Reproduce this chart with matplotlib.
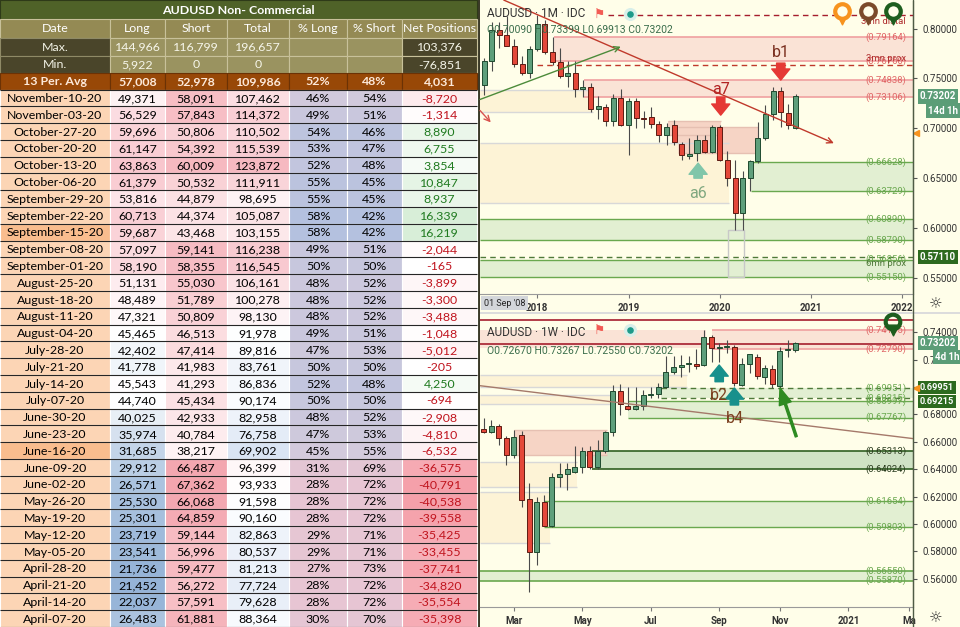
import matplotlib
matplotlib.use("Agg")
import matplotlib.pyplot as plt
import matplotlib.dates as mdates
from matplotlib.patches import Rectangle
from matplotlib.colors import LinearSegmentedColormap
import numpy as np
import pandas as pd

plt.rcParams["font.family"] = ["Roboto", "DejaVu Sans"]

W, H = 960, 627
CREAM = "#fffee9"

# ---------------- COT table data ----------------
title = "AUDUSD Non- Commercial"
columns = ["Date", "Long", "Short", "Total", "% Long", "% Short", "Net Positions"]
max_vals = [144966, 116799, 196657, None, None, 103376]
min_vals = [5922, 0, 0, None, None, -76851]
avg_vals = [57008, 52978, 109986, "52%", "48%", 4031]

dates = ["November-10-20", "November-03-20", "October-27-20", "October-20-20",
         "October-13-20", "October-06-20", "September-29-20", "September-22-20",
         "September-15-20", "September-08-20", "September-01-20", "August-25-20",
         "August-18-20", "August-11-20", "August-04-20", "July-28-20", "July-21-20",
         "July-14-20", "July-07-20", "June-30-20", "June-23-20", "June-16-20",
         "June-09-20", "June-02-20", "May-26-20", "May-19-20", "May-12-20",
         "May-05-20", "April-28-20", "April-21-20", "April-14-20", "April-07-20"]
long_pos = [49371, 56529, 59696, 61147, 63863, 61379, 53816, 60713, 59687, 57097, 58190,
            51131, 48489, 47321, 45465, 42402, 41778, 45543, 44740, 40025, 35974, 31685,
            29912, 26571, 25530, 25301, 23719, 23541, 21736, 21452, 22037, 26483]
short_pos = [58091, 57843, 50806, 54392, 60009, 50532, 44879, 44374, 43468, 59141, 58355,
             55030, 51789, 50809, 46513, 47414, 41983, 41293, 45434, 42933, 40784, 38217,
             66487, 67362, 66068, 64859, 59144, 56996, 59477, 56272, 57591, 61881]
total_pos = [107462, 114372, 110502, 115539, 123872, 111911, 98695, 105087, 103155, 116238,
             116545, 106161, 100278, 98130, 91978, 89816, 83761, 86836, 90174, 82958, 76758,
             69902, 96399, 93933, 91598, 90160, 82863, 80537, 81213, 77724, 79628, 88364]
pct_long = [46, 49, 54, 53, 52, 55, 55, 58, 58, 49, 50, 48, 48, 48, 49, 47, 50, 52, 50, 48,
            47, 45, 31, 28, 28, 28, 29, 29, 27, 28, 28, 30]
pct_short = [54, 51, 46, 47, 48, 45, 45, 42, 42, 51, 50, 52, 52, 52, 51, 53, 50, 48, 50, 52,
             53, 55, 69, 72, 72, 72, 71, 71, 73, 72, 72, 70]
net_pos = [-8720, -1314, 8890, 6755, 3854, 10847, 8937, 16339, 16219, -2044, -165, -3899,
           -3300, -3488, -1048, -5012, -205, 4250, -694, -2908, -4810, -6532, -36575, -40791,
           -40538, -39558, -35425, -33455, -37741, -34820, -35554, -35398]
highlight_dates = ["September-15-20", "June-16-20"]

# ---------------- monthly candles (top panel) ----------------
m_months = pd.period_range("2017-06", "2020-11", freq="M")
m_open = [0.743, 0.768, 0.799, 0.794, 0.783, 0.765, 0.756, 0.780, 0.805, 0.777, 0.767, 0.752,
          0.756, 0.739, 0.741, 0.719, 0.721, 0.707, 0.730, 0.703, 0.727, 0.710, 0.711, 0.704,
          0.693, 0.703, 0.684, 0.672, 0.675, 0.688, 0.676, 0.701, 0.668, 0.650, 0.615, 0.650,
          0.667, 0.690, 0.714, 0.737, 0.715, 0.7009]
m_high = [0.771, 0.807, 0.807, 0.813, 0.790, 0.773, 0.783, 0.814, 0.809, 0.792, 0.781, 0.768,
          0.768, 0.748, 0.745, 0.732, 0.724, 0.734, 0.739, 0.730, 0.730, 0.717, 0.721, 0.707,
          0.705, 0.708, 0.686, 0.690, 0.693, 0.693, 0.703, 0.703, 0.677, 0.668, 0.657, 0.668,
          0.706, 0.723, 0.741, 0.741, 0.724, 0.7340]
m_low = [0.733, 0.758, 0.781, 0.783, 0.762, 0.753, 0.750, 0.778, 0.775, 0.764, 0.750, 0.741,
         0.731, 0.731, 0.716, 0.709, 0.702, 0.702, 0.702, 0.673, 0.700, 0.700, 0.700, 0.686,
         0.683, 0.683, 0.668, 0.669, 0.667, 0.675, 0.675, 0.667, 0.642, 0.598, 0.598, 0.637,
         0.665, 0.688, 0.708, 0.701, 0.699, 0.6991]
m_close = [0.768, 0.799, 0.794, 0.783, 0.765, 0.756, 0.780, 0.805, 0.777, 0.767, 0.752, 0.756,
           0.739, 0.741, 0.719, 0.722, 0.707, 0.730, 0.703, 0.727, 0.710, 0.709, 0.704, 0.693,
           0.701, 0.686, 0.673, 0.674, 0.688, 0.676, 0.701, 0.668, 0.650, 0.615, 0.650, 0.667,
           0.690, 0.714, 0.737, 0.716, 0.703, 0.7320]

# ---------------- weekly candles (bottom panel) ----------------
w_weeks = pd.date_range("2020-02-03", "2020-11-16", freq="W-MON")
w_open = [0.6692, 0.6670, 0.6716, 0.6626, 0.6504, 0.6650, 0.6181, 0.5794, 0.6164, 0.5988,
          0.6346, 0.6364, 0.6382, 0.6419, 0.6534, 0.6418, 0.6534, 0.6670, 0.6972, 0.6864,
          0.6838, 0.6864, 0.6942, 0.6950, 0.6999, 0.7108, 0.7145, 0.7168, 0.7168, 0.7161,
          0.7368, 0.7285, 0.7290, 0.7290, 0.7015, 0.7166, 0.7222, 0.7076, 0.7130, 0.7010,
          0.7268, 0.7267]
w_high = [0.6772, 0.6760, 0.6730, 0.6640, 0.6685, 0.6680, 0.6302, 0.6200, 0.6215, 0.6371,
          0.6444, 0.6444, 0.6570, 0.6560, 0.6570, 0.6617, 0.6683, 0.7015, 0.7020, 0.7004,
          0.7004, 0.6980, 0.6999, 0.7030, 0.7230, 0.7227, 0.7237, 0.7230, 0.7276, 0.7417,
          0.7380, 0.7321, 0.7345, 0.7305, 0.7209, 0.7243, 0.7240, 0.7158, 0.7158, 0.7290,
          0.7340, 0.73267]
w_low = [0.6662, 0.6665, 0.6577, 0.6434, 0.6480, 0.6127, 0.5507, 0.5700, 0.5985, 0.5982,
         0.6273, 0.6250, 0.6372, 0.6370, 0.6402, 0.6402, 0.6520, 0.6645, 0.6796, 0.6830,
         0.6830, 0.6832, 0.6919, 0.6921, 0.6990, 0.7095, 0.7075, 0.7110, 0.7130, 0.7152,
         0.7180, 0.7180, 0.7250, 0.7006, 0.7006, 0.7100, 0.7060, 0.7021, 0.6991, 0.6991,
         0.7220, 0.7255]
w_close = [0.6670, 0.6716, 0.6626, 0.6504, 0.6638, 0.6176, 0.5794, 0.6164, 0.5988, 0.6342,
           0.6364, 0.6402, 0.6419, 0.6534, 0.6418, 0.6534, 0.6670, 0.6972, 0.6874, 0.6838,
           0.6864, 0.6942, 0.6950, 0.6999, 0.7108, 0.7145, 0.7162, 0.7170, 0.7157, 0.7368,
           0.7283, 0.7290, 0.7295, 0.7028, 0.7166, 0.7239, 0.7081, 0.7137, 0.7023, 0.7264,
           0.7272, 0.73202]

# zone levels
top_levels_red = [0.79164, 0.76760, 0.74838, 0.73106]
top_levels_green = [0.66628, 0.63729, 0.60890, 0.58790, 0.56856, 0.55150]
bot_levels_red = [0.74135, 0.72790]
bot_levels_green = [0.69951, 0.69215, 0.68997, 0.67767, 0.65313, 0.64024,
                    0.61654, 0.59803, 0.56550, 0.55870]

UP, UP_EDGE = "#5e9f7b", "#1f4a2f"
DN, DN_EDGE = "#e4483a", "#5c1a12"
WICK = "#4a4a4a"
PINK_F, PINK_L = "#fae3d6", "#f0a0a0"
SALMON_F, SALMON_L = "#f6d4c5", "#e6c0b2"
GREEN_F, GREEN_L = "#e2efd2", "#6aa84f"
DGREEN_F, DGREEN_L = "#cfe2c5", "#2f5e22"
BEIGE_F, BEIGE_L = "#fdf3d6", "#d8d8d8"
DARKRED = "#a51d2d"


def fig_axes(x0, y0, x1, y1, **kw):
    return fig.add_axes([x0 / W, 1 - y1 / H, (x1 - x0) / W, (y1 - y0) / H], **kw)


def fmt(v):
    if v is None:
        return ""
    if isinstance(v, str):
        return v
    return f"{v:,}"


def scale_colors(vals, colors, center=None):
    v = np.asarray(vals, float)
    cmap = LinearSegmentedColormap.from_list("c", colors)
    lo, hi = v.min(), v.max()
    if center is None:
        t = (v - lo) / (hi - lo)
    else:
        t = np.where(v < center, 0.5 * (v - lo) / (center - lo),
                     0.5 + 0.5 * (v - center) / (hi - center))
    return [cmap(x) for x in t]


def net_colors(vals):
    neg = LinearSegmentedColormap.from_list("n", ["#ffffff", "#f5a0aa"])
    pos = LinearSegmentedColormap.from_list("p", ["#ffffff", "#d8eed8"])
    lo, hi = min(vals), max(vals)
    return [neg(v / lo) if v < 0 else pos(v / hi) for v in vals]


def candles(ax, x, o, h, l, c, width, min_h):
    o, h, l, c = map(np.asarray, (o, h, l, c))
    up = c >= o
    ax.vlines(x, l, h, color=WICK, lw=0.8, zorder=4)
    ax.bar(x, np.maximum(np.abs(c - o), min_h), bottom=np.minimum(o, c), width=width,
           color=np.where(up, UP, DN), edgecolor=np.where(up, UP_EDGE, DN_EDGE),
           linewidth=0.7, zorder=5)


def zone(ax, x0, x1, lo, hi, fc, ec, lw=1.0, edge_lines=True, z=1):
    ax.add_patch(Rectangle((x0, lo), x1 - x0, hi - lo, facecolor=fc, edgecolor="none", zorder=z))
    if edge_lines:
        ax.hlines([lo, hi], x0, x1, colors=ec, lw=lw, zorder=z + 0.5)


def level_label(ax, p, text, color, y_off=0.0):
    ax.text(0.984, p + y_off, text, transform=ax.get_yaxis_transform(), ha="right",
            va="center", fontsize=6.8, color=color, zorder=8)


def price_box(ax, p, text, fc, x=1.016, size=7):
    ax.text(x, p, text, transform=ax.get_yaxis_transform(), ha="left", va="center",
            color="white", fontsize=size, fontweight="bold", clip_on=False, zorder=12,
            bbox=dict(boxstyle="square,pad=0.22", fc=fc, ec="none"))


def block_arrow(ax, x, tail, tip, color):
    ax.annotate("", xy=(x, tip), xytext=(x, tail), zorder=9,
                arrowprops=dict(arrowstyle="simple,head_width=1.3,head_length=0.8,tail_width=0.6",
                                color=color, shrinkA=0, shrinkB=0))


fig = plt.figure(figsize=(9.6, 6.27), dpi=100, facecolor=CREAM)

# ================= table =================
tab = fig_axes(0, 0, 480, 627)
tab.set_xlim(0, 480)
tab.set_ylim(627, 0)
tab.axis("off")
TF = "Lato"
col_x = [0, 110, 165, 227, 289, 347, 402, 477]
head_y = [0, 19, 37.5, 55.5, 73, 89.5]
row_h = (627 - head_y[-1]) / len(dates)


def cell(x0, x1, y0, y1, fc, text="", color="black", weight="normal", ec="white", lw=0.8, size=8.9):
    tab.add_patch(Rectangle((x0, y0), x1 - x0, y1 - y0, facecolor=fc, edgecolor=ec, linewidth=lw))
    if text:
        tab.text((x0 + x1) / 2, (y0 + y1) / 2 + 0.6, text, ha="center", va="center",
                 color=color, fontsize=size, fontweight=weight, family=TF)


tab.add_patch(Rectangle((0, 0), 480, 627, facecolor="#3b3a28", edgecolor="none"))
cell(0, 477, head_y[0], head_y[1], "#4f6228", title, "white", "bold", ec="#2e3a18")
for j, name in enumerate(columns):
    cell(col_x[j], col_x[j + 1], head_y[1], head_y[2], "#948a54", name, "white", ec="#c8c19a")
for r, (label, vals) in enumerate([("Max.", max_vals), ("Min.", min_vals)]):
    y0, y1 = head_y[2 + r], head_y[3 + r]
    cell(col_x[0], col_x[1], y0, y1, "#4a452a", label, "#f2f2e6", ec="#8f8a66")
    for j, v in enumerate(vals):
        fc = "#4a452a" if j == 5 else "#9a9360"
        cell(col_x[j + 1], col_x[j + 2], y0, y1, fc, fmt(v), "#f6f6ea", ec="#c8c19a")
cell(col_x[0], col_x[1], head_y[4], head_y[5], "#984807", "13 Per. Avg", "#fde9d9", "bold", ec="#6b3205")
for j, v in enumerate(avg_vals):
    cell(col_x[j + 1], col_x[j + 2], head_y[4], head_y[5], "#984807", fmt(v), "#fde9d9", "bold", ec="#6b3205")

long_c = scale_colors(long_pos, ["#95b3d7", "#ffffff", "#f8c6cd"], center=np.median(long_pos))
short_c = scale_colors(short_pos, ["#fef3f4", "#f3a5ae"])
total_c = scale_colors(total_pos, ["#d9e4f3", "#ffffff", "#f6b9c1"], center=np.median(total_pos))
pct_c = scale_colors(pct_long, ["#e8c5d2", "#d3cadc", "#b4c1df"], center=45)
net_c = net_colors(net_pos)

for i, d in enumerate(dates):
    y0 = head_y[-1] + i * row_h
    y1 = y0 + row_h
    date_fc = "#f9bd8e" if d in highlight_dates else "#fcd5b5"
    cell(col_x[0], col_x[1], y0, y1, date_fc, d)
    cell(col_x[1], col_x[2], y0, y1, long_c[i], fmt(long_pos[i]))
    cell(col_x[2], col_x[3], y0, y1, short_c[i], fmt(short_pos[i]))
    cell(col_x[3], col_x[4], y0, y1, total_c[i], fmt(total_pos[i]))
    cell(col_x[4], col_x[5], y0, y1, pct_c[i], f"{pct_long[i]}%")
    cell(col_x[5], col_x[6], y0, y1, pct_c[i], f"{pct_short[i]}%")
    cell(col_x[6], col_x[7], y0, y1, net_c[i], fmt(net_pos[i]),
         "#c0141e" if net_pos[i] < 0 else "#1f7a1f")
row_lines = head_y[-1] + np.arange(len(dates) + 1) * row_h
tab.hlines(row_lines, 0, 477, colors="#262626", lw=0.8)

# ================= top chart (monthly) =================
ax1 = fig_axes(480, 0, 913, 293.5, facecolor=CREAM)
mx = np.array([p.year + (p.month - 1) / 12 for p in m_months])
X1 = (2017.372, 2022.117)
ax1.set_xlim(*X1)
ax1.set_ylim(0.5347, 0.8286)

zone(ax1, X1[0], 2018.61, 0.7166, 0.7384, BEIGE_F, BEIGE_L, 1.0)
zone(ax1, X1[0], 2020.10, 0.6252, 0.6853, BEIGE_F, BEIGE_L, 1.0)
zone(ax1, 2018.18, X1[1], top_levels_red[1], top_levels_red[0], PINK_F, PINK_L, 1.2)
zone(ax1, 2018.51, X1[1], top_levels_red[3], top_levels_red[2], PINK_F, PINK_L, 1.2)
zone(ax1, 2019.43, 2020.01, 0.6933, 0.7076, SALMON_F, SALMON_L, 1.0, z=1.2)
zone(ax1, 2019.54, 2020.42, 0.6750, 0.7016, SALMON_F, SALMON_L, 1.0, z=1.2)
zone(ax1, 2020.34, X1[1], top_levels_green[1], top_levels_green[0], GREEN_F, GREEN_L, 1.0)
zone(ax1, X1[0], X1[1], top_levels_green[3], top_levels_green[2], GREEN_F, GREEN_L, 1.0)
zone(ax1, X1[0], X1[1], top_levels_green[5], top_levels_green[4], GREEN_F, GREEN_L, 1.0)
ax1.add_patch(Rectangle((2020.095, 0.5515), 0.175, 0.047, fc="none", ec="#c8c8c8", lw=1, zorder=3))
ax1.hlines(0.7634, 2018.0, X1[1], colors="#c0392b", lw=1, linestyles=(0, (4, 3)), zorder=2)
ax1.hlines(0.8135, 2018.78, X1[1], colors=DARKRED, lw=1, linestyles=(0, (4, 3)), zorder=2)
ax1.hlines(0.5711, X1[0], X1[1], colors="#4f7a3a", lw=1, linestyles=(0, (4, 3)), zorder=2)

candles(ax1, mx, m_open, m_high, m_low, m_close, 0.055, 0.0015)

ax1.annotate("", xy=(2021.25, 0.6852), xytext=(2017.633, 0.8285), zorder=6,
             arrowprops=dict(arrowstyle="->", color="#c0392b", lw=1, shrinkA=0, shrinkB=0))
ax1.annotate("", xy=(2018.915, 0.7818), xytext=(2017.372, 0.729), zorder=6,
             arrowprops=dict(arrowstyle="->", color="#4c8b3a", lw=1, shrinkA=0, shrinkB=0))
ax1.annotate("", xy=(2017.49, 0.706), xytext=(2017.372, 0.718), zorder=6,
             arrowprops=dict(arrowstyle="->", color="#d9534f", lw=1, shrinkA=0, shrinkB=0))

block_arrow(ax1, 2020.668, 0.7654, 0.7484, "#e53935")
ax1.text(2020.668, 0.7765, "b1", color="#7a2e1e", fontsize=11.5, ha="center", va="center", zorder=9)
block_arrow(ax1, 2020.01, 0.7314, 0.7133, "#e53935")
ax1.text(2020.01, 0.7394, "a7", color="#b22222", fontsize=11.5, ha="center", va="center", zorder=9)
block_arrow(ax1, 2019.762, 0.6502, 0.6652, "#80c6aa")
ax1.text(2019.762, 0.635, "a6", color="#7fa77f", fontsize=11.5, ha="center", va="center", zorder=9)

for p in top_levels_red:
    level_label(ax1, p, f"({p:.5f})", "#e06666")
ax1.text(0.984, 0.7700, "3mn prox", transform=ax1.get_yaxis_transform(), ha="right",
         va="center", fontsize=6.8, color="#b03030", zorder=8)
ax1.text(0.984, 0.8075, "3mn distal", transform=ax1.get_yaxis_transform(), ha="right",
         va="center", fontsize=6.8, color="#b03030", zorder=8)
for p in top_levels_green:
    level_label(ax1, p, f"({p:.5f})", "#6aa84f")
ax1.text(0.984, 0.5650, "6mn prox", transform=ax1.get_yaxis_transform(), ha="right",
         va="center", fontsize=6.8, color="#4f7a3a", zorder=8)

ax1.text(0.016, 0.953, "AUDUSD · 1M · IDC", transform=ax1.transAxes, fontsize=8.5,
         color="#333333", va="center", zorder=10)
ax1.text(0.016, 0.897, "O0.70090 H0.73399 L0.69913 C0.73202", transform=ax1.transAxes,
         fontsize=7.5, color="#3b6e4c", va="center", zorder=10)

ax1.set_yticks([0.55, 0.60, 0.65, 0.70, 0.75, 0.80])
ax1.set_yticklabels([f"{t:.5f}" for t in [0.55, 0.60, 0.65, 0.70, 0.75, 0.80]])
ax1.set_xticks([2018, 2019, 2020, 2021, 2022])
ax1.set_xticklabels(["2018", "2019", "2020", "2021", "2022"])
price_box(ax1, 0.73202, "0.73202", "#5b9d77")
price_box(ax1, 0.73202 - 0.0142, "14d 1h", "#5b9d77", x=1.035)
price_box(ax1, 0.5711, "0.57110", "#2d6a1f")
ax1.plot([1.008], [0.6953], marker="<", color="#f7931e", ms=4, transform=ax1.get_yaxis_transform(),
         clip_on=False, zorder=12)

# ================= bottom chart (weekly) =================
ax2 = fig_axes(480, 315, 913, 606.7, facecolor=CREAM)
wx = mdates.date2num(w_weeks)
ref = mdates.date2num(pd.Timestamp("2020-03-02"))
X2 = (ref - 31.3, ref + 367.5)
ax2.set_xlim(*X2)
ax2.set_ylim(0.5397, 0.7526)


def dn(s):
    return mdates.date2num(pd.Timestamp(s))


zone(ax2, X2[0], dn("2020-08-08"), 0.7003, 0.7088, BEIGE_F, BEIGE_L, 1.0)
zone(ax2, X2[0], dn("2020-05-29"), 0.6874, 0.6942, BEIGE_F, BEIGE_L, 1.0)
zone(ax2, X2[0], dn("2020-04-29"), 0.6273, 0.6456, BEIGE_F, BEIGE_L, 1.0)
zone(ax2, X2[0], dn("2020-04-04"), 0.5860, 0.6237, BEIGE_F, BEIGE_L, 1.0)
zone(ax2, X2[0], dn("2020-08-26"), 0.7283, 0.7415, PINK_F, PINK_L, 0.0, edge_lines=False)
zone(ax2, dn("2020-08-31"), X2[1], bot_levels_red[1], bot_levels_red[0], PINK_F, PINK_L, 1.2)
zone(ax2, dn("2020-03-02"), dn("2020-05-27"), 0.6504, 0.6687, SALMON_F, SALMON_L, 1.0, z=1.2)
zone(ax2, dn("2020-07-15"), X2[1], bot_levels_green[1], bot_levels_green[0], GREEN_F, GREEN_L, 0.0,
     edge_lines=False)
ax2.hlines(bot_levels_green[:2], dn("2020-07-15"), X2[1], colors="#4f7a3a", lw=1,
           linestyles=(0, (4, 3)), zorder=2)
zone(ax2, dn("2020-06-15"), X2[1], bot_levels_green[3], bot_levels_green[2], GREEN_F, GREEN_L, 1.0)
zone(ax2, dn("2020-05-13"), X2[1], bot_levels_green[5], bot_levels_green[4], DGREEN_F, DGREEN_L, 1.2)
zone(ax2, dn("2020-03-30"), X2[1], bot_levels_green[7], bot_levels_green[6], GREEN_F, GREEN_L, 1.0)
zone(ax2, X2[0], X2[1], bot_levels_green[9], bot_levels_green[8], GREEN_F, GREEN_L, 1.2)
ax2.axhline(0.7490, color=DARKRED, lw=1.2, zorder=2)
ax2.axhline(0.7312, color=DARKRED, lw=1.2, zorder=2)
ax2.plot(X2, [0.7010, 0.6624], color="#a5796a", lw=1, zorder=6)

candles(ax2, wx, w_open, w_high, w_low, w_close, 4.6, 0.0007)

ax2.annotate("", xy=(dn("2020-11-02"), 0.6994), xytext=(dn("2020-11-17"), 0.6638), zorder=9,
             arrowprops=dict(arrowstyle="simple,head_width=0.9,head_length=1.2,tail_width=0.15",
                             color="#2e8b22", shrinkA=0, shrinkB=0))
block_arrow(ax2, dn("2020-09-07"), 0.7039, 0.7161, "#18908c")
block_arrow(ax2, dn("2020-09-21"), 0.6869, 0.6993, "#18908c")
ax2.text(dn("2020-09-07"), 0.6942, "b2", color="#7b3f1f", fontsize=11.5, ha="center", va="center", zorder=9)
ax2.text(dn("2020-09-21"), 0.6772, "b4", color="#7b3f1f", fontsize=11.5, ha="center", va="center", zorder=9)

for p in bot_levels_red:
    level_label(ax2, p, f"({p:.5f})", "#e06666")
for k, p in enumerate(bot_levels_green):
    level_label(ax2, p, f"({p:.5f})", "#2b3d1f" if k in (4, 5) else "#6aa84f")

ax2.text(0.016, 0.94, "AUDUSD · 1W · IDC", transform=ax2.transAxes, fontsize=8.5,
         color="#333333", va="center", zorder=10)
ax2.text(0.016, 0.878, "O0.72670 H0.73267 L0.72550 C0.73202", transform=ax2.transAxes,
         fontsize=7.5, color="#3b6e4c", va="center", zorder=10)

bot_ticks = [0.56, 0.58, 0.60, 0.62, 0.64, 0.66, 0.68, 0.70, 0.72, 0.74]
ax2.set_yticks(bot_ticks)
# 0.70000 sits under the 0.69951 price box, so its label stays hidden
ax2.set_yticklabels(["" if abs(t - 0.70) < 1e-9 else f"{t:.5f}" for t in bot_ticks])
ax2.set_xticks([dn(s) for s in ["2020-03-02", "2020-05-04", "2020-07-06", "2020-09-07",
                                "2020-11-02", "2021-01-04", "2021-03-01"]])
ax2.set_xticklabels(["Mar", "May", "Jul", "Sep", "Nov", "2021", "Ma"])
price_box(ax2, 0.73202, "0.73202", "#5b9d77")
price_box(ax2, 0.73202 - 0.0100, "4d 1h", "#5b9d77", x=1.05)
# the scale pushes the lower of two touching labels down so both stay readable
price_box(ax2, 0.69951 + 0.0005, "0.69951", "#2d6a1f", size=6.6)
price_box(ax2, 0.69215 - 0.0025, "0.69215", "#2d6a1f", size=6.6)
ax2.plot([1.008], [0.69951], marker="<", color="#f7931e", ms=4, transform=ax2.get_yaxis_transform(),
         clip_on=False, zorder=13)

for ax in (ax1, ax2):
    ax.yaxis.tick_right()
    ax.tick_params(axis="y", length=3, color="#555555", labelsize=7, labelcolor="#333333", pad=4)
    ax.tick_params(axis="x", length=3, color="#777777", labelsize=7, labelcolor="#333333", pad=4)
    for lbl in ax.get_xticklabels():
        lbl.set_fontweight("bold")
    for s in ("top", "left"):
        ax.spines[s].set_visible(False)
    ax.spines["right"].set_color("#4f5b45")
    ax.spines["bottom"].set_color("#9a9a9a")

# ================= overlay: UI bits =================
ov = fig_axes(0, 0, 960, 627, zorder=20)
ov.set_xlim(0, 960)
ov.set_ylim(627, 0)
ov.axis("off")
ov.patch.set_alpha(0)
ov.vlines(913, 0, 627, colors="#4f5b45", lw=1)
ov.add_patch(Rectangle((480, 311.5), 480, 2.5, fc="#dcdcdc", ec="none"))
ov.text(484, 303, "01 Sep '08", fontsize=6.5, color="#222222", va="center",
        bbox=dict(boxstyle="square,pad=0.3", fc="#d3d6da", ec="none"))
for gy in (305, 619):
    ov.text(936, gy, "☼", fontsize=11, color="#333333", ha="center", va="center")
for y0 in (14, 330):
    ov.text(600, y0, "⚑", fontsize=9, color="#f25c54", ha="center", va="center")
    ov.scatter([630], [y0], s=70, color="#d8efe9", zorder=3)
    ov.scatter([630], [y0], s=14, color="#1d9a8a", zorder=4)
for px, col in [(842, "#f7931e"), (868, "#7b4a2a"), (893, "#1e5e1e")]:
    ov.scatter([px], [19], marker="v", s=60, color=col, zorder=3)
    ov.scatter([px], [11], s=110, facecolor=CREAM, edgecolor=col, lw=3, zorder=4)
ov.scatter([893], [330], marker="v", s=60, color="#1e5e1e", zorder=3)
ov.scatter([893], [322], s=110, facecolor="none", edgecolor="#1e5e1e", lw=3, zorder=4)

fig.savefig("out.png", dpi=100, facecolor=CREAM)
